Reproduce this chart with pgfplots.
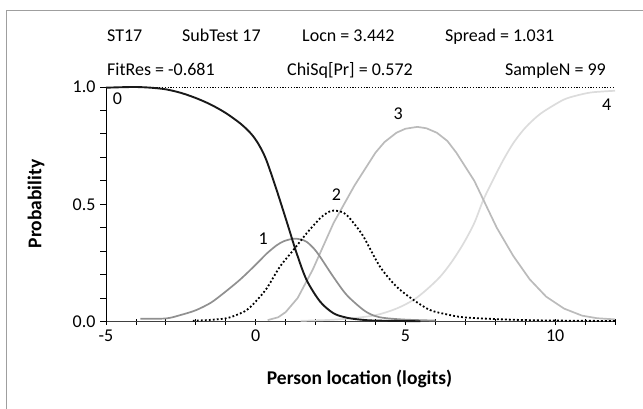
\documentclass[border=0pt]{standalone}
\usepackage{pgfplots}
\pgfplotsset{compat=1.18}
\usepackage{fontspec}
\setmainfont{Carlito}
\definecolor{c1}{HTML}{909090}
\definecolor{c3}{HTML}{BBBBBB}
\definecolor{c4}{HTML}{DCDCDC}
\newcommand{\txt}{\fontsize{18bp}{21bp}\selectfont}
\newcommand{\btxt}{\fontsize{19.5bp}{23bp}\selectfont\bfseries}
\begin{document}
\begin{tikzpicture}[x=1bp,y=1bp]
\useasboundingbox (0,0) rectangle (643,408);
% outer frame (only left and top edges inside the picture)
\draw[gray!75, line width=0.8bp] (6.7,-5) -- (6.7,397.3) -- (660,397.3);
% header
\node[anchor=base west, font=\txt, inner sep=0pt] at (107,367) {ST17};
\node[anchor=base west, font=\txt, inner sep=0pt] at (182,367) {SubTest 17};
\node[anchor=base west, font=\txt, inner sep=0pt] at (302,367) {Locn = 3.442};
\node[anchor=base west, font=\txt, inner sep=0pt] at (445,367) {Spread = 1.031};
\node[anchor=base west, font=\txt, inner sep=0pt] at (107,333) {FitRes = -0.681};
\node[anchor=base west, font=\txt, inner sep=0pt] at (287,333) {ChiSq[Pr] = 0.572};
\node[anchor=base east, font=\txt, inner sep=0pt] at (606,333) {SampleN = 99};
% axis titles
\node[rotate=90, font=\btxt] at (36,204) {Probability};
\node[font=\btxt] at (359.5,29) {Person location (logits)};
\begin{axis}[
    at={(106bp,86.5bp)}, anchor=south west,
    scale only axis,
    width=509bp, height=234.5bp,
    xmin=-5, xmax=12, ymin=0, ymax=1,
    clip=false,
    axis x line*=bottom, axis y line*=left,
    axis line style={-},
    x axis line style={draw=black!75, line width=1bp},
    y axis line style={draw=black, line width=0.9bp},
    xtick={-5,0,5,10}, xticklabels={-5,0,5,10},
    minor xtick={-4,-3,-2,-1,1,2,3,4,6,7,8,9,11,12},
    ytick={0,0.5,1}, yticklabels={0.0,0.5,1.0},
    minor ytick={0.1,0.2,0.3,0.4,0.6,0.7,0.8,0.9},
    tick align=center,
    tick style={black, line width=0.8bp},
    y tick style={xshift=-3bp},
    major tick length=6bp, minor tick length=6bp,
    ticklabel style={font=\txt},
    xticklabel style={yshift=-2bp},
    yticklabel style={xshift=-4bp},
    every tick label/.append style={text=black},
]
% reference line at 1.0
\addplot[black, line width=0.7bp, dash pattern=on 1.2bp off 1.6bp] coordinates {(-5,1) (12,1)};
% category 4
\addplot[c4, line width=1.7bp, smooth] coordinates {
(1.5,0.003) (2.5,0.007) (3.3,0.015) (4.04,0.028) (4.7,0.055) (5.27,0.092) (5.7,0.135)
(6.16,0.191) (6.55,0.255) (6.94,0.333) (7.3,0.42) (7.6,0.518) (7.95,0.61) (8.27,0.689)
(8.6,0.76) (8.94,0.817) (9.27,0.86) (9.61,0.895) (10.27,0.945) (10.7,0.963) (11.16,0.976)
(11.6,0.981) (12,0.984)};
% category 3
\addplot[c3, line width=1.7bp] coordinates {
(0.4,0.006) (0.75,0.018) (1.0,0.04) (1.4,0.10) (1.9,0.22) (2.6,0.42) (3.3,0.58) (4.0,0.72)
(4.3,0.765) (4.7,0.805) (5.0,0.822) (5.4,0.83) (5.7,0.824) (6.05,0.805) (6.4,0.77) (6.7,0.72)
(7.0,0.66) (7.3,0.60) (7.6,0.52) (8.05,0.40) (8.6,0.28) (9.15,0.18) (9.7,0.106)
(10.3,0.055) (10.9,0.025) (11.4,0.014) (12,0.009)};
% category 1
\addplot[c1, line width=1.7bp, smooth] coordinates {
(-3.85,0.012) (-3,0.013) (-2.5,0.028) (-2,0.048) (-1.5,0.08) (-1.08,0.12) (-0.6,0.17)
(-0.3,0.205) (0.1,0.255) (0.37,0.29) (0.7,0.325) (0.95,0.343) (1.26,0.353) (1.5,0.35)
(1.7,0.34) (1.95,0.31) (2.15,0.276) (2.59,0.191) (3.04,0.113) (3.6,0.049) (3.95,0.025)
(4.3,0.015) (5,0.008) (6,0.004)};
% category 0
\addplot[black!90, line width=1.9bp, smooth] coordinates {
(-5,0.997) (-4.5,0.999) (-4,1.0) (-3.5,0.997) (-3,0.99) (-2.5,0.975) (-2,0.953)
(-1.5,0.925) (-1,0.889) (-0.5,0.843) (-0.15,0.80) (0.1,0.755) (0.35,0.69) (0.7,0.56) (1.05,0.42)
(1.37,0.29) (1.7,0.177) (2.15,0.085) (2.6,0.035) (3.05,0.016) (3.5,0.008) (4,0.004)
(5.5,0.001)};
% category 2
\addplot[black, line width=1.8bp, dash pattern=on 1.8bp off 2.2bp, smooth] coordinates {
(-2.1,0.003) (-1.5,0.007) (-0.97,0.014) (-0.6,0.03) (-0.3,0.049) (0,0.085) (0.37,0.142)
(0.81,0.234) (1.26,0.305) (1.7,0.376) (2.15,0.44) (2.4,0.465) (2.6,0.473) (2.85,0.468)
(3.04,0.454) (3.3,0.415) (3.6,0.362) (4.15,0.234) (4.71,0.148) (5.27,0.092) (5.82,0.049)
(6.4,0.03) (6.94,0.018) (8.05,0.01) (9,0.006) (10,0.004) (12,0.002)};
% category labels
\node[font=\txt] at (axis cs:-4.62,0.949) {0};
\node[font=\txt] at (axis cs:0.25,0.355) {1};
\node[font=\txt] at (axis cs:2.70,0.54) {2};
\node[font=\txt] at (axis cs:4.76,0.888) {3};
\node[font=\txt] at (axis cs:11.72,0.923) {4};
\end{axis}
\end{tikzpicture}
\end{document}
